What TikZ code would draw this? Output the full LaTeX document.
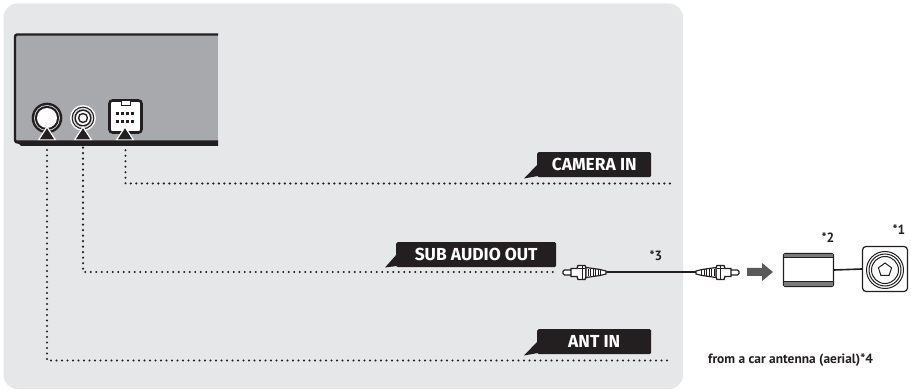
\documentclass[tikz,border=0pt]{standalone}
\usepackage{fontspec}
\setmainfont{PT Sans}
\newfontfamily\tagfont{Fira Sans}
\definecolor{panel}{HTML}{E6E7E8}
\definecolor{devgray}{HTML}{A7A9AC}
\definecolor{ink}{HTML}{231F20}
\definecolor{arrowgray}{HTML}{58595B}
\tikzset{
  x=1pt,y=-1pt,
  dotline/.style={line width=2.4pt,line cap=round,ink,dash pattern=on 0pt off 5.5pt},
  tag/.style={fill=ink,rounded corners=1.5pt,text=white,font=\tagfont\bfseries\fontsize{17.4}{18}\selectfont,inner sep=0pt,anchor=north west},
  note/.style={font=\bfseries\fontsize{13.4}{15}\selectfont,text=ink,inner sep=0pt},
  tip/.style={fill=ink,draw=white,line width=1.2pt,line join=miter},
  plug/.pic={
    % drawn with the tip at the origin, pointing left, cable to the right
    \draw[ink,fill=white,line width=1.3pt,rounded corners=1.5pt] (0,-2.5) -- (9,-2.5) -- (9,2.5) -- (0,2.5) -- cycle;
    \draw[ink,fill=white,line width=1.3pt] (8,-4) -- (14,-4) -- (15,-7) -- (22,-7) -- (23,-4.5) -- (23,4.5) -- (22,7) -- (15,7) -- (14,4) -- (8,4) -- cycle;
    \draw[ink,line width=1pt] (19,-7) -- (19,7) (15,-4) -- (22,-4);
    \draw[ink,fill=white,line width=1.2pt] (23,-5) -- (37,-3) -- (43,-1.5) -- (43,1.5) -- (37,3) -- (23,5) -- cycle;
    \foreach \i in {25,27.5,30,32.5,35,37.5}{\draw[ink,line width=1pt] (\i,-3.5) -- (\i,3.5);}
  }
}
\begin{document}
\begin{tikzpicture}
\useasboundingbox (0,0) rectangle (911,390);
% panel
\fill[panel,rounded corners=14pt] (3.5,3.5) rectangle (683,389);
% device
\fill[devgray] (15,35) rectangle (218,142);
\draw[ink,line width=2.4pt] (218,34.5) -- (17,34.5) to[out=180,in=90] (15,37) -- (15,140) to[out=-90,in=180] (17,142);
% jacks
\node[circle,fill=ink,minimum size=30.6pt,inner sep=0pt] (ant) at (47,118) {};
\fill[devgray!50!white] (47,118) circle (13);
\fill[ink] (47,118) circle (12.1);
\fill[white] (47,118) circle (10);
\node[circle,fill=white,minimum size=26pt,inner sep=0pt] (sub) at (83,118) {};
\fill[ink] (83,118) circle (11.4);
\fill[devgray!40!white] (83,118) circle (10.2);
\fill[ink] (83,118) circle (8.6);
\fill[white] (83,118) circle (7);
\fill[ink] (83,118) circle (5.2);
\fill[white] (83,118) circle (3.6);
\node[draw=ink,fill=white,line width=2.6pt,rounded corners=3pt,minimum width=32pt,minimum height=32pt,inner sep=0pt] (cam) at (125.5,116.5) {};
\draw[ink,fill=white,line width=1pt] (121,101.5) -- (121,106) -- (130,106) -- (130,101.5);
\foreach \px in {117.5,122.5,127.5,132.5}{
  \fill[ink] (\px-1.3,112) rectangle (\px+1.3,115);
  \fill[ink] (\px-1.3,120) rectangle (\px+1.3,123);
}
% routes
\coordinate (camend) at (675,183.5);
\coordinate (subend) at (555,272);
\coordinate (antend) at (671,360.5);
\draw[dotline] (cam.south) |- (camend);
\draw[dotline] (sub.south) |- (subend);
\draw[dotline] (ant.south) |- (antend);
\filldraw[tip] (47,127) -- (55.5,140) -- (38.5,140) -- cycle;
\filldraw[tip] (83,127) -- (91.5,140) -- (74.5,140) -- cycle;
\filldraw[tip] (125,127) -- (133.5,140) -- (116.5,140) -- cycle;
\fill[ink] (15,140.5) -- (218,140.5) -- (218,146) -- (21,146) -- (19,144) -- (15,143) -- cycle;
% tags
\fill[ink] (538,164) -- (524,178.5) -- (538,176) -- cycle;
\node[tag,minimum width=114pt,minimum height=25pt] (tagcam) at (537,152) {CAMERA IN};
\fill[ink] (397,254) -- (385,267.5) -- (397,266) -- cycle;
\node[tag,minimum width=160pt,minimum height=25pt] (tagsub) at (396,242) {SUB AUDIO OUT};
\fill[ink] (538,341) -- (524,355.5) -- (538,353) -- cycle;
\node[tag,minimum width=114pt,minimum height=25pt] (tagant) at (537,329) {ANT IN};
% cable
\coordinate (cl) at (605,272.5);
\coordinate (cr) at (697,272.5);
\draw[ink,line width=2pt] (cl) -- (cr);
\pic (pl) at (563,272.5) {plug};
\pic[xscale=-1] (pr) at (739,272.5) {plug};
\node[note] (n3) at (656,256) {*3};
% arrow
\fill[arrowgray] (747,268) -- (762,268) -- (762,263) -- (773,272) -- (762,281) -- (762,276) -- (747,276) -- cycle;
% filter box
\node[draw=ink,fill=white,line width=1.1pt,rounded corners=1.5pt,minimum width=50pt,minimum height=33pt,inner sep=0pt] (box) at (808.5,270) {};
\fill[arrowgray!80] (784,254) rectangle (833,257.5);
\fill[arrowgray!80] (784,282.5) rectangle (833,286);
\draw[ink,line width=1pt] (784,258) -- (833,258) (784,282) -- (833,282);
% antenna socket
\node[draw=ink,fill=white,line width=1.2pt,rounded corners=3.5pt,minimum width=45pt,minimum height=45pt,inner sep=0pt] (ant2) at (885,269) {};
\draw[ink,line width=1.6pt] (box.east) -- (ant2.west);
\draw[ink,line width=1pt] (885,270) circle (18.5) circle (16) circle (13.5);
\draw[ink,line width=1pt] (885,263) -- (891.6,267.8) -- (889.1,275.5) -- (880.9,275.5) -- (878.4,267.8) -- cycle;
\node[note] (n2) at (828,238) {*2};
\node[note] (n1) at (899,230) {*1};
\node[note,anchor=west] (from) at (708,360) {from a car antenna (aerial)*4};
\end{tikzpicture}
\end{document}
